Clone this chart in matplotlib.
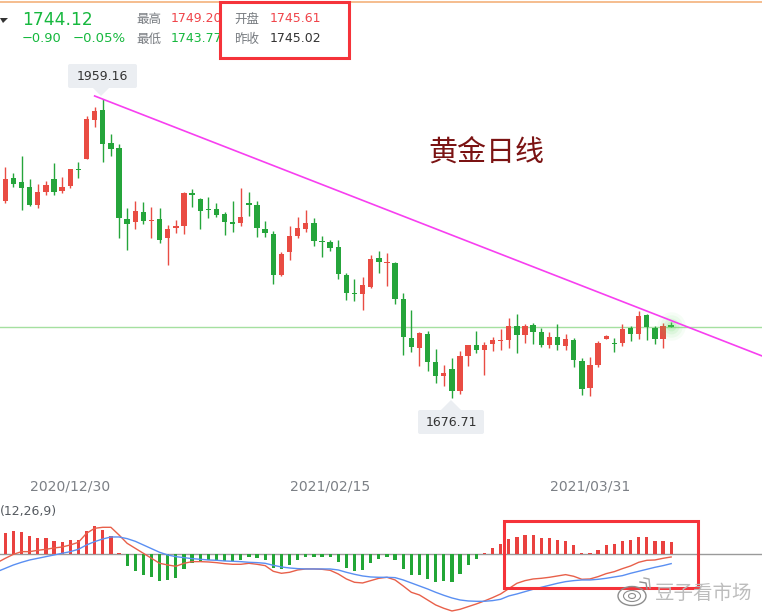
import numpy as np
import matplotlib
matplotlib.use("Agg")
import matplotlib.pyplot as plt
from matplotlib.patches import Rectangle, FancyBboxPatch, Polygon, Ellipse

W, H = 762, 613
FONT = ['DejaVu Sans', 'Noto Sans CJK SC']
CJK = ['Noto Sans CJK SC', 'DejaVu Sans']

# candle data: high, body top, body bottom, low
candles = [
 (1895.5,1883.9,1863.1,1860.9,'r'),(1889.2,1884.8,1879.2,1876.6,'g'),(1905.9,1881.0,1875.4,1854.6,'g'),
 (1883.9,1876.3,1859.3,1858.7,'g'),(1878.9,1871.6,1859.3,1856.5,'r'),(1882.3,1878.2,1871.6,1868.8,'r'),
 (1899.3,1883.9,1871.6,1868.5,'g'),(1886.1,1876.3,1872.5,1870.3,'r'),(1893.3,1893.3,1877.3,1875.4,'r'),
 (1900.3,1893.3,1892.4,1884.8,'g'),(1943.4,1940.6,1902.8,1902.8,'r'),(1951.6,1948.1,1939.6,1933.3,'r'),
 (1959.2,1949.1,1917.2,1899.9,'g'),(1926.4,1917.9,1912.2,1905.6,'g'),(1916.6,1913.2,1847.0,1828.1,'g'),
 (1856.5,1846.1,1841.4,1816.8,'g'),(1863.1,1853.6,1843.2,1836.6,'r'),(1862.2,1852.7,1844.5,1841.4,'g'),
 (1857.4,1845.1,1844.2,1828.1,'r'),(1856.5,1846.1,1826.3,1823.4,'g'),(1840.4,1836.6,1828.1,1802.6,'r'),
 (1845.1,1839.5,1837.9,1832.9,'r'),(1871.6,1870.6,1839.5,1831.9,'r'),(1874.4,1870.6,1868.8,1857.4,'g'),
 (1866.2,1865.0,1853.6,1836.6,'g'),(1866.9,1855.5,1854.6,1847.0,'g'),(1861.2,1855.5,1849.9,1848.0,'g'),
 (1852.7,1850.8,1843.2,1831.0,'g'),(1863.1,1843.2,1841.4,1833.8,'g'),(1875.4,1848.0,1842.3,1839.5,'r'),
 (1871.6,1861.2,1859.3,1848.9,'g'),(1863.1,1859.3,1837.6,1829.1,'g'),(1844.2,1836.7,1832.9,1829.1,'g'),
 (1834.8,1831.9,1793.2,1784.7,'g'),(1814.9,1813.0,1793.2,1792.3,'r'),(1839.5,1830.0,1814.9,1807.4,'r'),
 (1848.0,1837.6,1830.0,1827.8,'r'),(1854.6,1842.3,1836.7,1834.1,'r'),(1847.1,1842.3,1825.3,1820.6,'g'),
 (1830.0,1825.3,1824.4,1810.2,'g'),(1826.3,1824.4,1818.7,1815.9,'g'),(1826.3,1819.7,1794.2,1789.4,'g'),
 (1794.8,1793.2,1776.2,1769.6,'g'),(1789.4,1776.2,1775.3,1768.6,'g'),(1791.3,1783.8,1775.3,1760.1,'r'),
 (1812.1,1808.3,1781.9,1780.9,'r'),(1815.9,1809.3,1805.5,1794.8,'g'),(1814.0,1805.5,1804.5,1782.8,'r'),
 (1805.5,1804.5,1770.5,1765.8,'g'),(1776.2,1770.5,1734.6,1717.6,'g'),(1760.1,1733.7,1725.2,1720.5,'g'),
 (1739.4,1738.4,1724.3,1707.2,'r'),(1740.3,1737.5,1711.0,1702.5,'g'),(1723.3,1711.0,1697.8,1691.2,'g'),
 (1708.2,1700.6,1697.8,1688.0,'r'),(1714.8,1704.4,1683.6,1676.7,'g'),(1721.4,1716.7,1683.6,1680.8,'r'),
 (1727.1,1727.1,1716.7,1707.2,'r'),(1740.3,1727.1,1722.4,1719.5,'g'),(1729.9,1727.1,1722.4,1698.7,'r'),
 (1734.6,1731.8,1728.0,1721.4,'r'),(1742.2,1731.8,1730.9,1722.4,'r'),(1752.2,1745.0,1731.8,1724.2,'r'),
 (1756.0,1745.0,1736.5,1719.2,'g'),(1746.9,1745.0,1736.5,1728.6,'r'),(1747.5,1745.9,1739.3,1728.0,'g'),
 (1743.1,1739.3,1727.0,1724.8,'g'),(1739.0,1734.6,1727.0,1724.2,'r'),(1746.6,1734.6,1727.0,1722.3,'g'),
 (1737.4,1732.7,1726.1,1722.3,'r'),(1733.7,1731.8,1712.9,1706.0,'g'),(1714.8,1711.9,1685.5,1679.5,'g'),
 (1716.0,1708.2,1686.4,1678.9,'r'),(1730.8,1728.9,1708.2,1706.0,'r'),(1736.5,1735.5,1732.7,1732.7,'r'),
 (1734.0,1728.9,1728.0,1720.7,'g'),(1746.9,1742.2,1728.9,1726.1,'r'),(1745.0,1743.1,1737.4,1730.8,'g'),
 (1759.5,1754.4,1737.4,1732.7,'r'),(1756.3,1755.4,1744.0,1731.8,'g'),(1745.0,1743.1,1732.7,1728.0,'g'),
 (1747.5,1745.0,1732.7,1723.9,'r'),(1749.2,1745.6,1744.1,1743.8,'g'),
]

macd_hist = [6.4,7.0,6.7,5.5,4.9,4.9,4.0,3.7,4.3,4.3,7.0,8.5,7.3,5.5,0.4,-3.5,-5.0,-6.2,-6.8,-8.0,-7.7,-7.1,-4.4,-2.6,
 -2.3,-1.7,-1.7,-2.0,-2.0,-1.7,-0.8,-1.1,-1.7,-4.1,-4.4,-3.2,-1.7,-0.8,-0.8,-0.8,-0.8,-2.3,-4.1,-5.0,-4.7,-2.6,-1.4,-0.8,
 -1.7,-4.4,-6.2,-6.2,-7.4,-8.3,-8.0,-8.3,-5.9,-3.2,-1.4,0.4,1.9,3.1,4.6,5.2,5.8,5.8,4.9,4.9,4.3,4.0,2.8,0.4,0.4,1.3,2.8,
 3.1,4.0,4.3,5.2,5.2,4.0,4.0,3.7]
dif_line = [-2.5,-1.2,0.0,0.8,0.8,1.2,1.5,1.9,2.2,2.8,3.6,6.3,7.8,8.1,8.1,5.8,3.3,1.8,0.3,-1.2,-2.7,-3.2,-3.6,-2.7,-2.2,
 -2.2,-2.3,-2.5,-2.8,-3.0,-3.0,-2.7,-3.0,-3.4,-5.1,-5.7,-5.4,-4.7,-4.4,-4.4,-4.5,-4.8,-5.9,-7.4,-8.4,-8.6,-7.9,-7.2,-6.9,
 -7.7,-9.5,-11.4,-12.2,-13.7,-15.2,-16.2,-17.0,-16.5,-15.7,-14.9,-14.0,-13.0,-11.9,-10.3,-8.7,-7.9,-7.4,-7.2,-6.9,-6.5,
 -6.1,-6.6,-7.5,-7.4,-6.7,-5.8,-5.2,-4.3,-3.5,-2.4,-1.8,-1.7,-1.2,-0.8]
dea_line = [-5.2,-4.2,-3.2,-2.4,-1.7,-1.2,-0.7,-0.2,0.3,0.8,1.5,2.8,3.8,4.6,5.2,5.2,4.7,3.9,2.8,1.7,0.6,-0.2,-0.7,-1.0,-1.3,
 -1.5,-1.7,-1.8,-2.0,-2.1,-2.2,-2.4,-2.5,-2.7,-3.3,-3.8,-4.1,-4.3,-4.4,-4.4,-4.4,-4.4,-4.7,-5.4,-6.0,-6.5,-6.8,-6.9,-6.9,
 -7.0,-7.7,-8.6,-9.5,-10.4,-11.4,-12.3,-13.1,-13.7,-14.0,-14.1,-14.1,-13.9,-13.5,-12.5,-11.9,-11.2,-10.5,-9.9,-9.3,-8.7,
 -8.2,-7.9,-7.7,-7.7,-7.5,-7.2,-6.8,-6.4,-5.7,-5.1,-4.5,-3.9,-3.4,-2.8]

date_ticks = [8, 40, 72]
date_labels = ['2020/12/30', '2021/02/15', '2021/03/31']
trend_x = [11.0, 93.2]
trend_y = [1962.3, 1716.7]
last_price = 1744.12

RED, GREEN = '#e94c43', '#25a53b'
col = {'r': RED, 'g': GREEN}

# pixel <-> data mapping
X0, DX = 5.33, 8.12
P_PER_PX = 0.9446
def price_at(py): return 1959.16 - (py - 99.3) * P_PER_PX
def macd_at(py): return (554.3 - py) / 3.333
xlim = ((0 - X0) / DX, (W - X0) / DX)

fig = plt.figure(figsize=(W / 100, H / 100), dpi=100, facecolor='white')

# price panel
P_TOP, P_BOT = 8, 470
ax = fig.add_axes([0, 1 - P_BOT / H, 1, (P_BOT - P_TOP) / H], facecolor='none')
ax.set_xlim(*xlim); ax.set_ylim(price_at(P_BOT), price_at(P_TOP)); ax.axis('off')
ax.axhline(last_price, color='#a5e0a0', lw=1, zorder=1)
for i, (hi, top, bot, lo, c) in enumerate(candles):
    ax.vlines(i, lo, hi, color=col[c], lw=1.0, zorder=2)
    ax.bar(i, top - bot, bottom=bot, width=0.66, color=col[c], lw=0, zorder=3)
# glow on the last candle
for s, a in [(420, .05), (260, .07), (130, .10), (50, .14)]:
    ax.scatter([82], [1745], s=s, color='#5fdc5f', alpha=a, lw=0, zorder=4)
ax.plot(trend_x, trend_y, color='#f73ff0', lw=1.2, zorder=5, clip_on=False)

# MACD panel
M_TOP, M_BOT = 498, 613
ax2 = fig.add_axes([0, 0, 1, (M_BOT - M_TOP) / H], facecolor='none')
ax2.set_xlim(*xlim); ax2.set_ylim(macd_at(M_BOT), macd_at(M_TOP)); ax2.axis('off')
ax2.axhline(0, color='#9a9a9a', lw=1, zorder=1)
for i, v in enumerate(macd_hist):
    ax2.bar(i, v, width=0.4, color='#e9413f' if v > 0 else '#22a636', lw=0, zorder=2)
xl = np.arange(-1, len(dif_line) - 1)
ax2.plot(xl, dif_line, color='#e8604a', lw=1.0, zorder=3)
ax2.plot(xl, dea_line, color='#5a8ff2', lw=1.0, zorder=3)

# overlay for page furniture in pixel space
ov = fig.add_axes([0, 0, 1, 1], facecolor='none')
ov.set_xlim(0, W); ov.set_ylim(H, 0); ov.axis('off')
pt = 0.72
def T(x, y, s, size, color, ha='left', fam=FONT, **k):
    ov.text(x, y, s, fontsize=size * pt, color=color, ha=ha, va='center', family=fam, **k)

ov.plot([0, W], [2, 2], color='#f4b27c', lw=1.2)
ov.add_patch(Polygon([[0, 18], [8, 18], [3, 23]], color='#333333', lw=0))
T(22, 20, '1744.12', 17, '#16b83e')
T(22, 39, '−0.90', 13, '#16b83e')
T(73, 39, '−0.05%', 13.2, '#16b83e')
T(136, 19, '最高', 12.5, '#777b80', fam=CJK)
T(171, 19, '1749.20', 12.5, '#f0444a')
T(136, 39, '最低', 12.5, '#777b80', fam=CJK)
T(171, 39, '1743.77', 12.5, '#16b83e')
T(234, 19, '开盘', 12.5, '#777b80', fam=CJK)
T(270, 19, '1745.61', 12.5, '#f0444a')
T(234, 39, '昨收', 12.5, '#777b80', fam=CJK)
T(270, 39, '1745.02', 12.5, '#333333')
ov.add_patch(Rectangle((219.5, 2), 129, 56, fill=False, ec='#f5333a', lw=2.2, zorder=6))

# value callouts
for (x0, y0, w, h, tip, s) in [(68, 64, 69, 24, [[93, 88], [109, 88], [101, 96]], '1959.16'),
                               (418, 410, 66, 24, [[441, 410], [461, 410], [451, 400]], '1676.71')]:
    ov.add_patch(FancyBboxPatch((x0 + 2, y0 + 2), w - 4, h - 4, boxstyle='round,pad=2',
                                fc='#ebeef2', ec='none', zorder=1))
    ov.add_patch(Polygon(tip, fc='#ebeef2', ec='none', zorder=1))
    T(x0 + w / 2, y0 + h / 2, s, 12.5, '#333333', ha='center', zorder=2)

T(428, 154, '黄金日线', 29, '#7b1313', fam=CJK, fontweight='medium')

for i, s in zip(date_ticks, date_labels):
    T(X0 + DX * i, 487, s, 14, '#7c8086', ha='center')
T(0, 511, '(12,26,9)', 12.5, '#555a60')

ov.add_patch(Rectangle((503.5, 520.5), 194, 67, fill=False, ec='#f5333a', lw=2.2, zorder=6))

# watermark
for w_, h_, lw_ in [(28, 19, 1.0), (17, 11, 0.8), (7, 5, 0.8)]:
    ov.add_patch(Ellipse((632, 596), w_, h_, fill=False, ec='#8d8d8d', lw=lw_, zorder=7))
ov.plot([640, 646, 647], [582, 583, 589], color='#8d8d8d', lw=1, zorder=7)
ov.plot([644, 649, 650], [578, 579, 588], color='#aaaaaa', lw=1, zorder=7)
T(655, 593, '豆子看市场', 19.5, '#b9b9b9', fam=CJK, zorder=7, alpha=.95)

fig.savefig('out.png', dpi=100)
